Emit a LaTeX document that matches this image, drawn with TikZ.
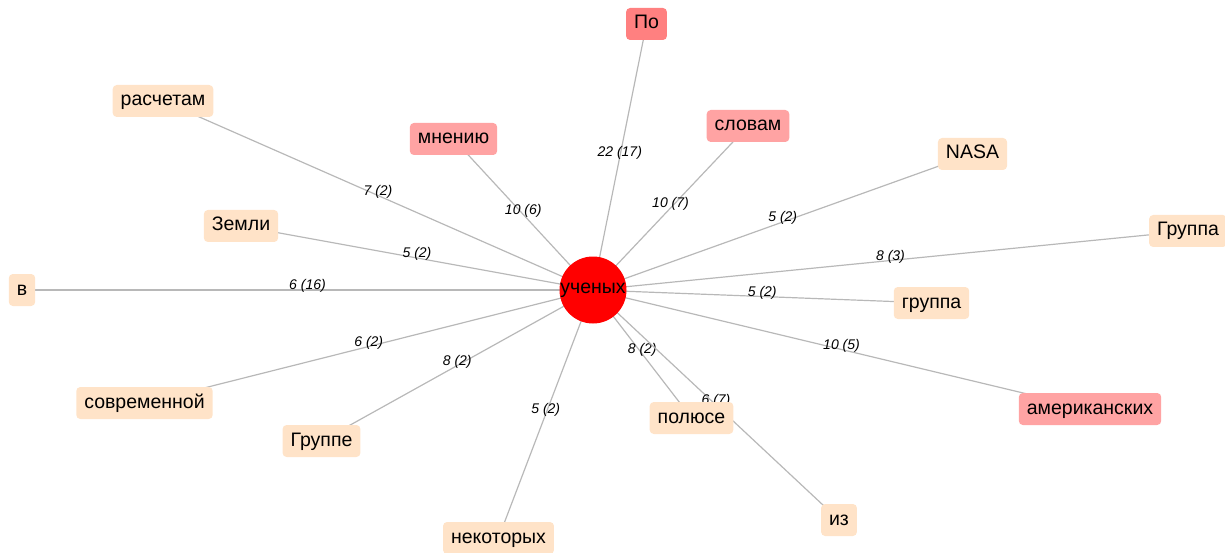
\documentclass[tikz,border=0pt]{standalone}
\usepackage{fontspec}
\setmainfont{Liberation Sans}
\usepackage{xcolor}
\usepackage{tikz}
\usetikzlibrary{backgrounds}
\definecolor{melocoton}{HTML}{FFE3C8}
\definecolor{rosa}{HTML}{FFA3A3}
\definecolor{coral}{HTML}{FF8080}
\definecolor{rojo}{HTML}{FF0000}
\definecolor{arista}{HTML}{B8B8B8}

\begin{document}
\begin{tikzpicture}[x=1pt, y=-1pt,
      w/.style={rounded corners=4pt, inner xsep=8pt, inner ysep=7pt,
                text height=14pt, text depth=4pt,
                font=\fontsize{19.5}{22}\selectfont},
      wl/.style={w, fill=melocoton},
      wp/.style={w, fill=rosa},
      wc/.style={w, fill=coral},
      e/.style={draw=arista, line width=1.2pt},
      lbl/.style={midway, yshift=4pt, inner sep=0pt,
                  font=\fontsize{14}{16}\selectfont\itshape}]
    \useasboundingbox (0,0) rectangle (1225,553);
    % centro
    \node[circle, fill=rojo, minimum size=67pt, inner sep=0pt,
          font=\fontsize{19.5}{22}\selectfont] (u) at (593,290) {ученых};
    % palabras
    \node[wc] (po) at (646.5,24) {По};
    \node[wl] (ras) at (163,101) {расчетам};
    \node[wp] (mne) at (453.5,139) {мнению};
    \node[wp] (slo) at (748,126) {словам};
    \node[wl] (nasa) at (972.5,154) {NASA};
    \node[wl] (Gru) at (1188,231) {Группа};
    \node[wl] (zem) at (241,226) {Земли};
    \node[wl] (v) at (22,290) {в};
    \node[wl] (gru) at (931.5,303) {группа};
    \node[wl] (sov) at (144.5,403) {современной};
    \node[wl] (Gre) at (321.5,441) {Группе};
    \node[wp] (ame) at (1090,409) {американских};
    \node[wl] (pol) at (691.5,418) {полюсе};
    \node[wl] (iz) at (839,520) {из};
    \node[wl] (nek) at (498.5,538) {некоторых};
    % aristas
    \begin{scope}[on background layer]
      \draw[e] (u.center) -- node[lbl]{22 (17)} (po.center);
      \draw[e] (u.center) -- node[lbl]{7 (2)} (ras.center);
      \draw[e] (u.center) -- node[lbl]{10 (6)} (mne.center);
      \draw[e] (u.center) -- node[lbl]{10 (7)} (slo.center);
      \draw[e] (u.center) -- node[lbl]{5 (2)} (nasa.center);
      \draw[e] (u.center) -- node[lbl]{8 (3)} (Gru.center);
      \draw[e] (u.center) -- node[lbl]{5 (2)} (zem.center);
      \draw[e] (u.center) -- node[lbl]{6 (16)} (v.center);
      \draw[e] (u.center) -- node[lbl]{5 (2)} (gru.center);
      \draw[e] (u.center) -- node[lbl]{6 (2)} (sov.center);
      \draw[e] (u.center) -- node[lbl]{8 (2)} (Gre.center);
      \draw[e] (u.center) -- node[lbl]{10 (5)} (ame.center);
      \draw[e] (u.center) -- node[lbl]{8 (2)} (pol.center);
      \draw[e] (u.center) -- node[lbl]{6 (7)} (iz.center);
      \draw[e] (u.center) -- node[lbl]{5 (2)} (nek.center);
    \end{scope}
  \end{tikzpicture}
\end{document}
